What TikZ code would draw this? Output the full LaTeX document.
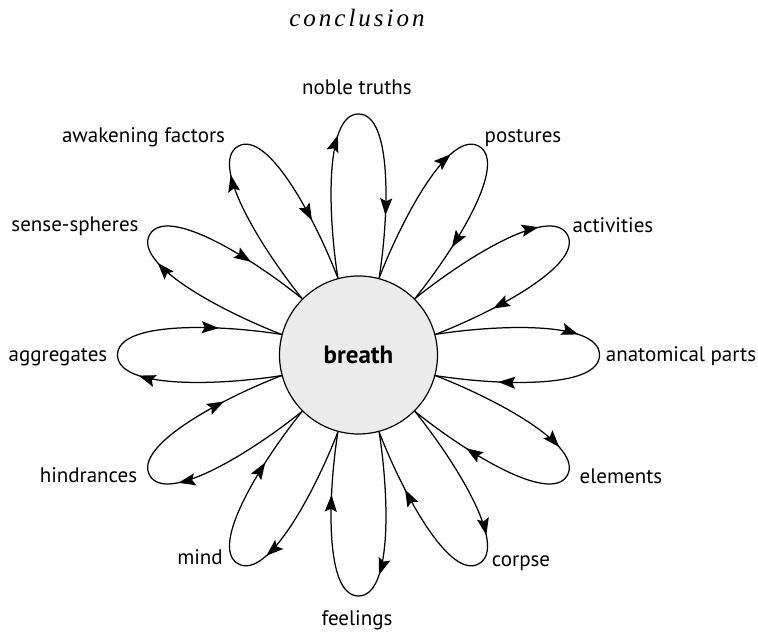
\documentclass[tikz,border=0pt]{standalone}
\usepackage{fontspec}
\setmainfont{PT Sans}
\newfontfamily\titlefont{Liberation Serif}[LetterSpace=12]
\usetikzlibrary{arrows.meta,decorations.markings,calc}
\definecolor{circfill}{HTML}{EBEBEB}
\begin{document}
\begin{tikzpicture}[x=1pt,y=1pt,
  lbl/.style={font=\fontsize{21}{25}\selectfont, anchor=base, inner sep=0pt},
  tipar/.tip={Stealth[length=17pt,width=12pt,inset=3pt]},
  petal/.style={line width=1.25pt, postaction={decorate},
    decoration={markings,
      mark=at position 0.41 with {\arrow{tipar}},
      mark=at position 0.82 with {\arrow{tipar}}}}]
\useasboundingbox (0,0) rectangle (758,634);
\node[circle, draw, line width=1.2pt, fill=circfill, minimum size=158pt, inner sep=0pt,
  font=\bfseries\fontsize{25}{30}\selectfont] (b) at (358.5,279) {breath};
\foreach \a [evaluate=\a as \p using {mod(\a+15,360)},
             evaluate=\a as \q using {mod(\a+345,360)}] in {0,30,...,330}{
  \coordinate (t\a) at ($(b.center)+(\a:241)$);
  \draw[petal] (b.\p) .. controls ($(b.center)+({\a+12.29}:143.8)$) and ($(b.center)+({\a+8.03}:243.4)$) .. (t\a)
     .. controls ($(b.center)+({\a-8.03}:243.4)$) and ($(b.center)+({\a-12.29}:143.8)$) .. (b.\q);
}
\node[anchor=base, inner sep=0pt] (title) at (357,607) {\titlefont\itshape\fontsize{25}{29}\selectfont conclusion};
\node[lbl] (nt) at (357,539) {noble truths};
\node[lbl] (po) at (523,491) {postures};
\node[lbl] (aw) at (143.5,491) {awakening factors};
\node[lbl] (ac) at (613,401) {activities};
\node[lbl] (ss) at (75,402) {sense-spheres};
\node[lbl] (an) at (681,272) {anatomical parts};
\node[lbl] (ag) at (58,272) {aggregates};
\node[lbl] (el) at (621,150) {elements};
\node[lbl] (hi) at (88.5,151) {hindrances};
\node[lbl] (co) at (521,67) {corpse};
\node[lbl] (mi) at (200,69) {mind};
\node[lbl] (fe) at (357,8) {feelings};
\end{tikzpicture}
\end{document}
